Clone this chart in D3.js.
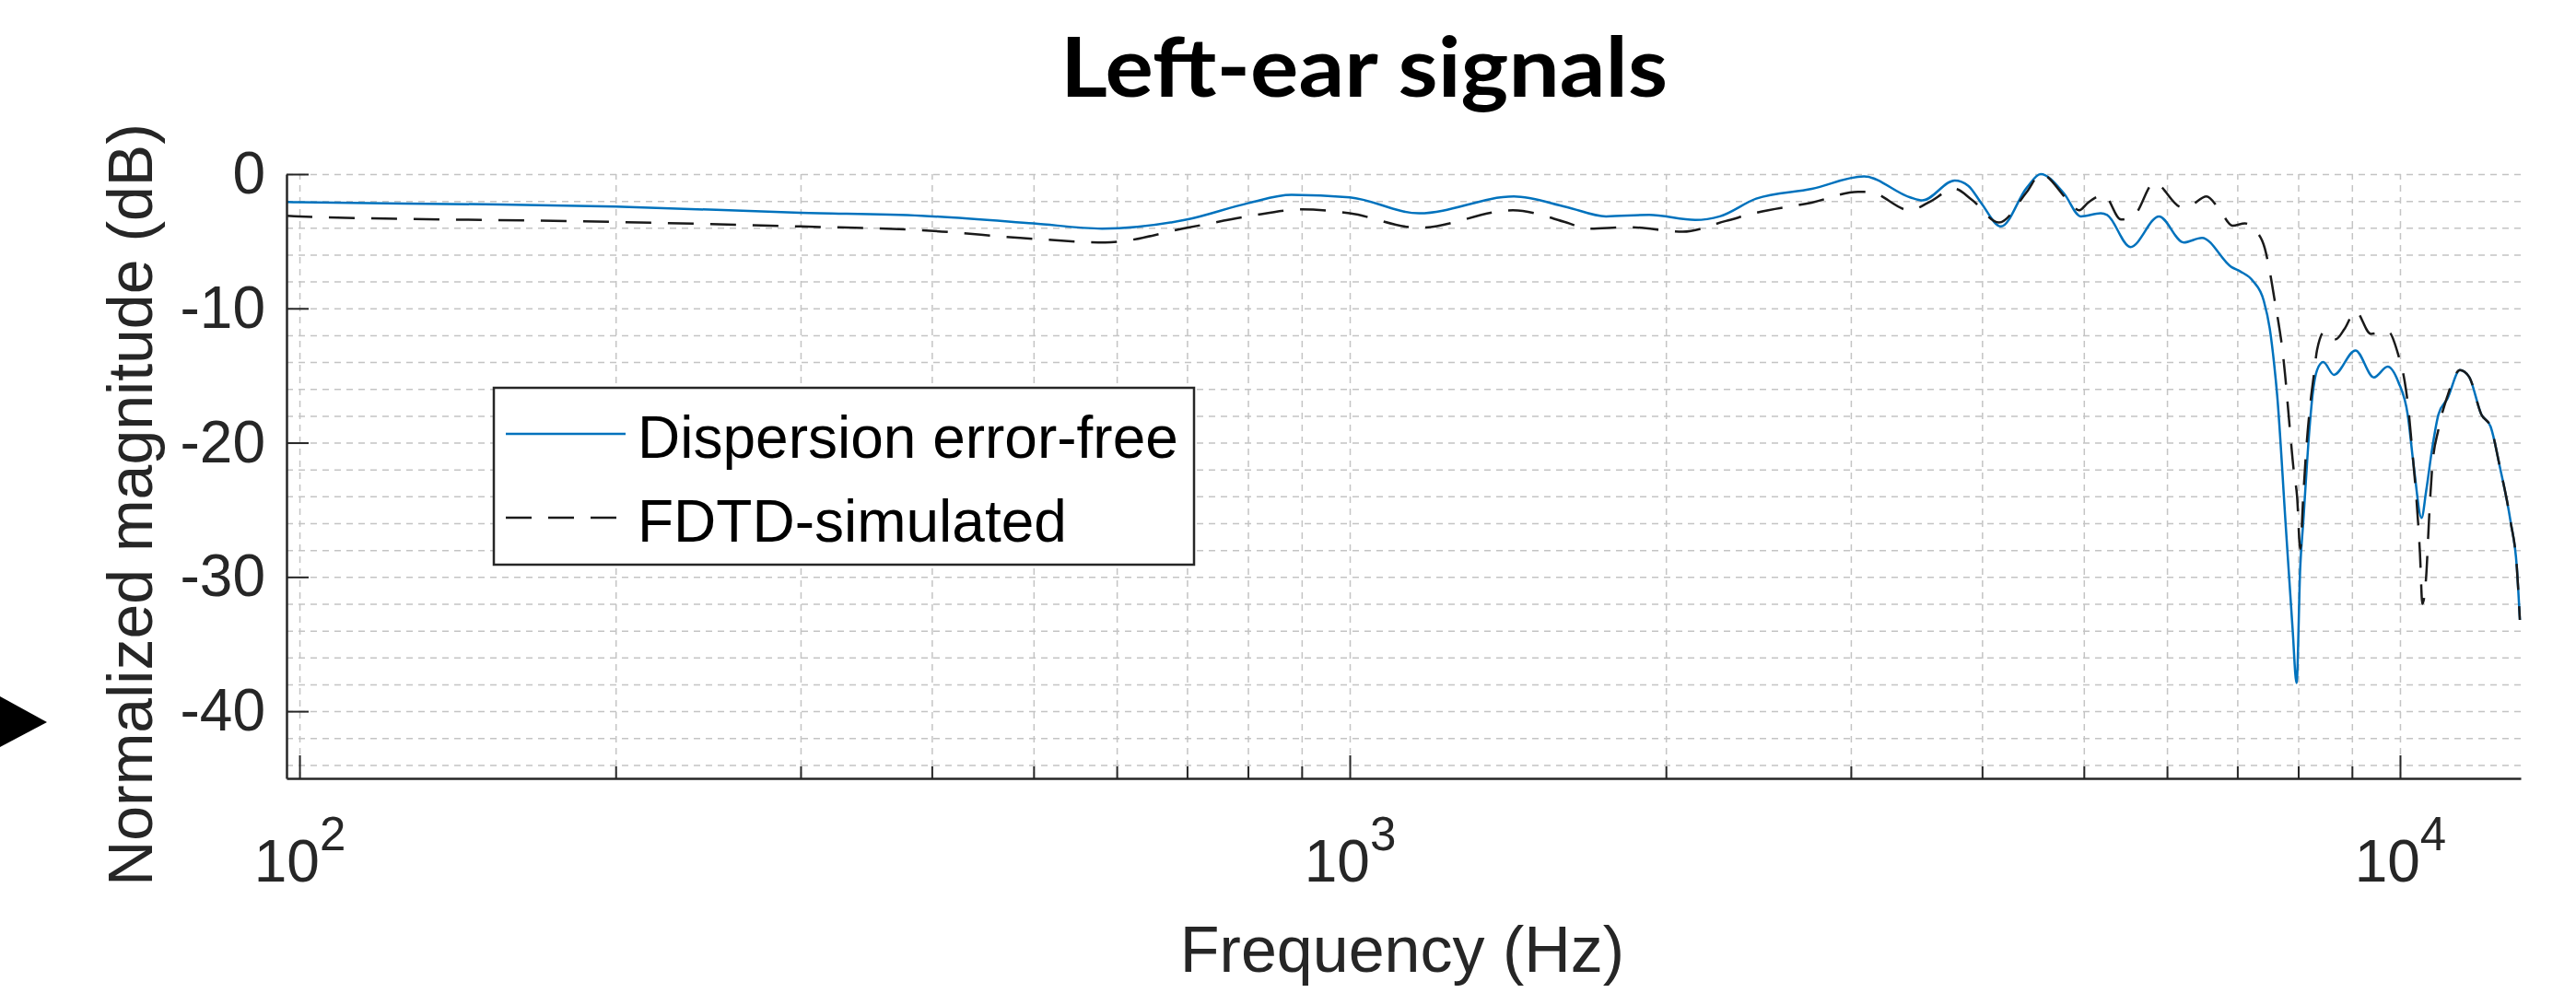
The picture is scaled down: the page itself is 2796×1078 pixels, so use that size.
<!DOCTYPE html>
<html>
<head>
<meta charset="utf-8">
<script src="https://cdn.jsdelivr.net/npm/d3@7"></script>
<style>
  body { margin: 0; background: #fff; }
  text { font-family: "Liberation Sans", Arial, Helvetica, sans-serif; fill: #262626; }
</style>
</head>
<body>
<div id="app"></div>
<script>
// frequency (Hz) and normalized magnitude (dB)
const freqFree = [97.2, 100, 150, 200, 300, 391, 500, 581, 700, 800, 880, 1000, 1164, 1433, 1608, 1754, 1928, 2133, 2251, 2438, 2754, 3088, 3416, 3510, 3767, 3881, 3990, 4169, 4413, 4548, 4787, 4966, 5188, 5262, 5538, 5896, 6223, 6478, 6910, 7050, 7243, 7418, 7516, 7590, 7640, 7780, 7901, 7971, 8035, 8089, 8199, 8254, 8337, 8451, 8651, 9070, 9443, 9734, 9966, 10170, 10308, 10484, 10590, 10733, 10880, 11100, 11403, 11636, 11953, 12196, 12447, 12745, 12920, 13006];
const magFree = [-2.08, -2.1, -2.25, -2.42, -2.88, -3.1, -3.67, -4.06, -3.38, -2.17, -1.55, -1.73, -2.92, -1.67, -2.45, -3.15, -3.04, -3.42, -3.15, -1.83, -1.1, -0.18, -1.73, -1.96, -0.48, -0.87, -2.12, -3.9, -1.0, 0.0, -1.44, -3.15, -2.92, -3.04, -5.43, -3.15, -5.09, -4.75, -6.92, -7.26, -7.95, -9.43, -11.5, -14.2, -16.5, -25.9, -33.8, -37.9, -29.3, -25.9, -19.0, -16.5, -14.6, -14.0, -14.95, -13.13, -15.14, -14.34, -15.5, -17.9, -21.8, -25.6, -23.6, -20.4, -17.9, -16.7, -14.6, -15.1, -17.9, -18.8, -21.8, -25.9, -29.3, -33.2];

const freqFdtd = [97.2, 100, 200, 300, 391, 500, 585, 700, 800, 900, 1000, 1164, 1430, 1608, 1684, 1840, 2075, 2281, 2438, 2754, 3048, 3119, 3416, 3556, 3767, 3910, 4150, 4413, 4548, 4850, 4950, 5047, 5225, 5424, 5587, 5834, 6201, 6300, 6543, 6723, 6928, 7118, 7282, 7436, 7535, 7590, 7668, 7721, 7772, 7847, 7925, 7980, 8035, 8089, 8144, 8226, 8281, 8337, 8481, 8682, 8859, 9070, 9380, 9734, 9966, 10101, 10170, 10273, 10378, 10447, 10503, 10590, 10662, 10733, 10880, 11100, 11403, 11636, 11953, 12196, 12447, 12745, 12920, 13006];
const magFdtd = [-3.1, -3.15, -3.56, -3.9, -4.18, -4.82, -5.09, -4.0, -3.15, -2.63, -2.92, -4.0, -2.7, -3.6, -4.07, -3.95, -4.29, -3.49, -2.88, -2.12, -1.32, -1.32, -2.7, -2.12, -1.1, -1.9, -3.6, -1.32, 0.0, -2.12, -2.7, -2.12, -1.55, -3.38, -3.04, -0.64, -2.47, -2.4, -1.67, -2.58, -3.84, -3.67, -4.18, -5.55, -7.72, -9.2, -11.25, -12.85, -14.9, -18.6, -22.2, -24.0, -27.9, -24.0, -20.4, -16.7, -14.9, -13.1, -11.7, -12.3, -11.5, -10.2, -11.9, -11.7, -13.5, -15.4, -17.0, -20.6, -24.7, -28.2, -32.0, -30.0, -25.4, -21.8, -19.0, -16.5, -14.6, -15.1, -17.9, -18.8, -21.8, -25.9, -29.3, -33.2];

const seriesNames = ["Dispersion error-free", "FDTD-simulated"];
const xMajor = [100, 1000, 10000];
const xMajorExp = ["2", "3", "4"];
const xMinor = [200, 300, 400, 500, 600, 700, 800, 900, 2000, 3000, 4000, 5000, 6000, 7000, 8000, 9000];
const yTicks = [0, -10, -20, -30, -40];
const yGrid = [0, -2, -4, -6, -8, -10, -12, -14, -16, -18, -20, -22, -24, -26, -28, -30, -32, -34, -36, -38, -40, -42, -44];

const w = 2796;
const h = 1078;
const plotLeft = 311, plotRight = 2736, plotTop = 189, plotBottom = 845;

const svg = d3.select("#app")
    .append("svg")
    .attr("width", w)
    .attr("height", h)
    .style("background-color", "white")

const x = d3.scaleLog()
    .domain([97.2, 13030])
    .range([plotLeft, plotRight]);

const y = d3.scaleLinear()
    .domain([-45, 0])
    .range([plotBottom, plotTop]);

// grid
svg.append("g")
    .attr("transform", `translate(0,${plotBottom})`)
    .call(d3.axisBottom(x).tickValues(xMajor.concat(xMinor)).tickSize(-(plotBottom - plotTop)).tickFormat(""))
    .call(g => g.select(".domain").remove())
    .selectAll("line")
    .attr("stroke", "#c4c4c4")
    .attr("stroke-width", 1.5)
    .attr("stroke-dasharray", "7,6")

svg.append("g")
    .attr("transform", `translate(${plotLeft},0)`)
    .call(d3.axisLeft(y).tickValues(yGrid).tickSize(-(plotRight - plotLeft)).tickFormat(""))
    .call(g => g.select(".domain").remove())
    .selectAll("line")
    .attr("stroke", "#c4c4c4")
    .attr("stroke-width", 1.5)
    .attr("stroke-dasharray", "7,6")

// curves
const line = d3.line()
    .x(d => x(d[0]))
    .y(d => y(d[1]))
    .curve(d3.curveMonotoneX)

svg.append("path")
    .datum(d3.zip(freqFree, magFree))
    .attr("fill", "none")
    .attr("stroke", "#0072BD")
    .attr("stroke-width", 2.5)
    .attr("d", line)

svg.append("path")
    .datum(d3.zip(freqFdtd, magFdtd))
    .attr("fill", "none")
    .attr("stroke", "#1a1a1a")
    .attr("stroke-width", 2.5)
    .attr("stroke-dasharray", "28,18")
    .attr("d", line)

// axes
const axisColor = "#262626";

svg.append("g")
    .attr("transform", `translate(0,${plotBottom})`)
    .call(d3.axisBottom(x).tickValues(xMinor).tickSizeInner(-13).tickSizeOuter(0).tickFormat(""))
    .call(g => g.select(".domain").remove())
    .selectAll("line").attr("stroke", axisColor).attr("stroke-width", 2)

const xAxisG = svg.append("g")
    .attr("transform", `translate(0,${plotBottom})`)
    .call(d3.axisBottom(x).tickValues(xMajor).tickSizeInner(-25).tickSizeOuter(0).tickFormat(""))

xAxisG.select(".domain").attr("stroke", axisColor).attr("stroke-width", 2.5)
xAxisG.selectAll(".tick line").attr("stroke", axisColor).attr("stroke-width", 2)
xAxisG.selectAll(".tick").each(function(d, i) {
    const t = d3.select(this).append("text")
        .attr("y", 112)
        .attr("text-anchor", "middle")
        .style("font-size", "64px")
        .attr("fill", axisColor)
    t.append("tspan").text("10")
    t.append("tspan").attr("dy", -34).style("font-size", "51px").text(xMajorExp[i])
})

const yAxisG = svg.append("g")
    .attr("transform", `translate(${plotLeft},0)`)
    .call(d3.axisLeft(y).tickValues(yTicks).tickSizeInner(-24).tickSizeOuter(0).tickPadding(23).tickFormat(d => String(d)))

yAxisG.select(".domain").attr("stroke", axisColor).attr("stroke-width", 2.5)
yAxisG.selectAll(".tick line").attr("stroke", axisColor).attr("stroke-width", 2)
yAxisG.selectAll(".tick text")
    .style("font-size", "64px")
    .style("font-family", "'Liberation Sans', Arial, sans-serif")
    .attr("fill", axisColor)

// axis labels
svg.append("text")
    .attr("x", 1522)
    .attr("y", 1055)
    .attr("text-anchor", "middle")
    .style("font-size", "70px")
    .text("Frequency (Hz)")

svg.append("text")
    .attr("transform", "translate(165,548) rotate(-90)")
    .attr("text-anchor", "middle")
    .style("font-size", "68px")
    .text("Normalized magnitude (dB)")

// title
svg.append("text")
    .attr("x", 1151)
    .attr("y", 105)
    .attr("textLength", 659)
    .attr("lengthAdjust", "spacingAndGlyphs")
    .style("font-family", "Lato, 'Open Sans', sans-serif")
    .style("font-weight", 700)
    .style("font-size", "90px")
    .style("fill", "#000")
    .text("Left-ear signals")

// legend
const legend = svg.append("g")

legend.append("rect")
    .attr("x", 536)
    .attr("y", 421)
    .attr("width", 760)
    .attr("height", 192)
    .attr("fill", "white")
    .attr("stroke", axisColor)
    .attr("stroke-width", 2.5)

const legendStyles = [
    { stroke: "#0072BD", dash: null },
    { stroke: "#1a1a1a", dash: "28,18" }
]

seriesNames.forEach((name, i) => {
    const ly = 471 + i * 91;
    legend.append("line")
        .attr("x1", 549)
        .attr("x2", 679)
        .attr("y1", ly)
        .attr("y2", ly)
        .attr("stroke", legendStyles[i].stroke)
        .attr("stroke-width", 2.5)
        .attr("stroke-dasharray", legendStyles[i].dash)
    legend.append("text")
        .attr("x", 692)
        .attr("y", ly + 26)
        .style("font-size", "64px")
        .style("fill", "#000")
        .text(name)
})

// marker arrow at left edge
svg.append("path")
    .attr("d", "M0,756L51,784L0,811Z")
    .attr("fill", "#000")
</script>
</body>
</html>
